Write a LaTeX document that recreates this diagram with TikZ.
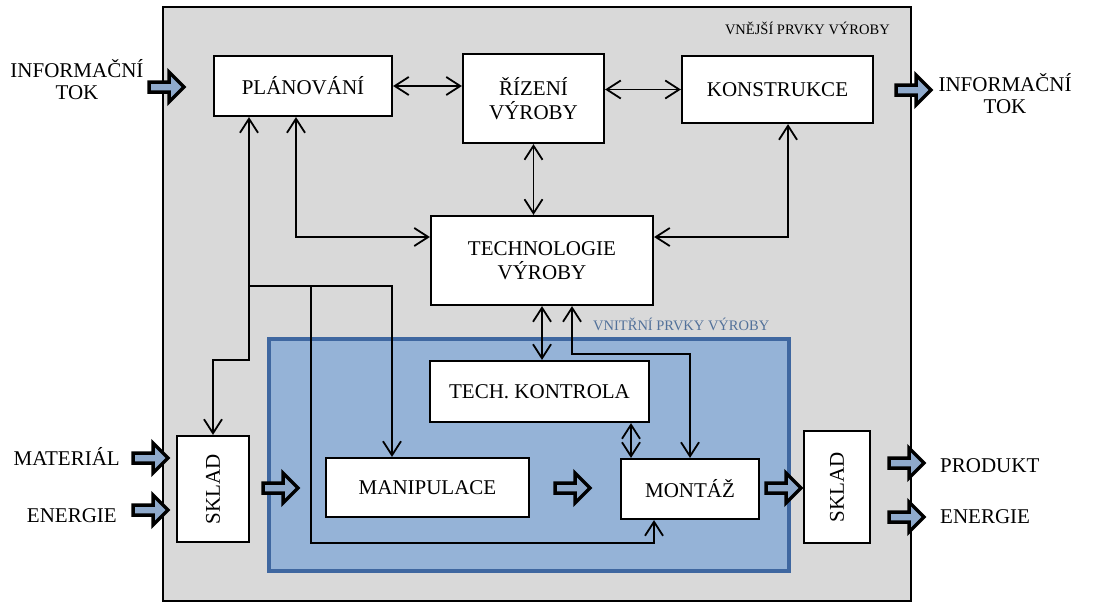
\documentclass[tikz,border=0pt]{standalone}
\usepackage{fontspec}
\usepackage{graphicx}
\setmainfont{Liberation Serif}
\usetikzlibrary{arrows.meta,calc}
\definecolor{greybg}{HTML}{D9D9D9}
\definecolor{bluefill}{HTML}{95B3D7}
\definecolor{blueline}{HTML}{3F67A0}
\definecolor{bluetext}{HTML}{52719A}
\definecolor{arrowfill}{HTML}{8FAACC}
\begin{document}
\begin{tikzpicture}[x=1pt,y=-1pt,
  >={Straight Barb[length=14pt,width=18pt]},
  box/.style={draw=black, line width=2.2pt, fill=white, inner sep=0pt,
    font=\fontsize{21}{24}\selectfont, align=center},
  lab/.style={inner sep=0pt, font=\fontsize{21}{22}\selectfont, align=center},
  small/.style={inner sep=0pt, font=\fontsize{14.5}{17}\selectfont},
  conn/.style={line width=1.8pt, line join=miter},
  barrow/.pic={\filldraw[fill=arrowfill, draw=black, line width=3.5pt, miter limit=10]
    (-18,-5) -- (2,-5) -- (2,-15) -- (17,0) -- (2,15) -- (2,5) -- (-18,5) -- cycle;}]
\useasboundingbox (0,0) rectangle (1094,602);

% containers
\node[draw=black, fill=greybg, line width=2pt, minimum width=748pt, minimum height=594pt, inner sep=0pt] (outer) at (537,304) {};
\node[draw=blueline, fill=bluefill, line width=4pt, minimum width=520pt, minimum height=232pt, inner sep=0pt] (inner) at (529,455) {};
\node[small, anchor=east] (vnejsi) at (890,28) {VNĚJŠÍ PRVKY VÝROBY};
\node[small, anchor=west, text=bluetext] (vnitrni) at (593,324) {VNITŘNÍ PRVKY VÝROBY};

% boxes
\node[box, minimum width=178pt, minimum height=60pt] (PLAN) at (303,86) {PLÁNOVÁNÍ};
\node[box, minimum width=141pt, minimum height=89pt] (RIZ) at (533.5,98.5) {ŘÍZENÍ\\VÝROBY};
\node[box, minimum width=191pt, minimum height=67pt] (KON) at (777.5,89.5) {KONSTRUKCE};
\node[box, minimum width=222pt, minimum height=89pt] (TECH) at (542,260.5) {TECHNOLOGIE\\VÝROBY};
\node[box, minimum width=219pt, minimum height=61pt] (TK) at (539.5,391.5) {TECH. KONTROLA};
\node[box, minimum width=203pt, minimum height=59pt] (MANI) at (427.5,487.5) {MANIPULACE};
\node[box, minimum width=138pt, minimum height=60pt] (MONT) at (690,489) {MONTÁŽ};
\node[box, minimum width=72pt, minimum height=106pt] (SKL1) at (213,489) {\rotatebox{90}{SKLAD}};
\node[box, minimum width=66pt, minimum height=112pt] (SKL2) at (837,487) {\rotatebox{90}{SKLAD}};

% outside labels
\node[lab] (infl) at (77,79.5) {INFORMAČNÍ\\TOK};
\node[lab] (infr) at (1005,93.5) {INFORMAČNÍ\\TOK};
\node[lab, anchor=base east] (mat) at (120,465) {MATERIÁL};
\node[lab, anchor=base east] (enl) at (117,522) {ENERGIE};
\node[lab, anchor=base west] (prod) at (940,472) {PRODUKT};
\node[lab, anchor=base west] (enr) at (940,523) {ENERGIE};

% connectors
\draw[conn,<->] (PLAN.east) -- (PLAN.east -| RIZ.west);
\draw[conn,<->] (RIZ.east |- KON.west) -- (KON.west);
\draw[conn,<->] (RIZ.south) -- (RIZ.south |- TECH.north);
\draw[conn,<->] (PLAN.south -| 296,0) -- (296,237) -- (TECH.west |- 0,237);
\draw[conn,<->] (KON.south -| 788,0) -- (788,237) -- (TECH.east |- 0,237);
\draw[conn,<->] (PLAN.south -| 249,0) -- (249,360) -| (SKL1.north);
\draw[conn,->] (249,286) -- (392,286) -- (MANI.north -| 392,0);
\draw[conn,->] (311,286) -- (311,543) -| (MONT.south -| 654,0);
\draw[conn,<->] (TECH.south) -- (TECH.south |- TK.north);
\draw[conn,<->] (TECH.south -| 572,0) -- (572,354) -| (MONT.north);
\draw[conn,<->] (TK.south -| 631,0) -- (MONT.north -| 631,0);

% block arrows
\pic at (167,87) {barrow};
\pic at (914,90) {barrow};
\pic at (151,458) {barrow};
\pic at (151,510) {barrow};
\pic at (281,488) {barrow};
\pic at (573,488) {barrow};
\pic at (784,488) {barrow};
\pic at (907,463) {barrow};
\pic at (907,517) {barrow};
\end{tikzpicture}
\end{document}
